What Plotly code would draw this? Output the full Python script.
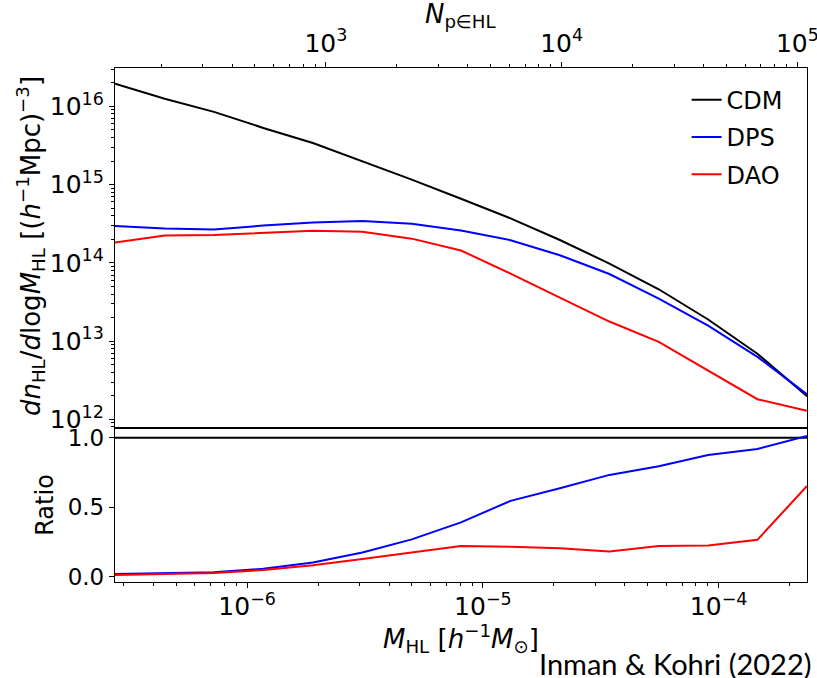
import plotly.graph_objects as go

# ---------------- data ----------------
mass = [2.75e-7, 4.47e-7, 7.23e-7, 1.17e-6, 1.90e-6, 3.08e-6, 4.99e-6, 8.07e-6,
        1.31e-5, 2.12e-5, 3.44e-5, 5.57e-5, 9.02e-5, 1.46e-4, 2.37e-4]
cdm = [1.95e16, 1.25e16, 8.5e15, 5.3e15, 3.4e15, 2.0e15, 1.16e15, 6.6e14,
       3.7e14, 1.96e14, 9.8e13, 4.6e13, 1.89e13, 6.9e12, 1.98e12]
dps = [2.96e14, 2.75e14, 2.66e14, 3.0e14, 3.27e14, 3.43e14, 3.17e14, 2.6e14,
       1.95e14, 1.25e14, 7.2e13, 3.5e13, 1.58e13, 6.3e12, 2.09e12]
dao = [1.82e14, 2.23e14, 2.27e14, 2.41e14, 2.58e14, 2.5e14, 2.04e14, 1.44e14,
       7.3e13, 3.6e13, 1.78e13, 9.8e12, 4.2e12, 1.81e12, 1.29e12]
ratio_cdm = [1.0, 1.0, 1.0, 1.0, 1.0, 1.0, 1.0, 1.0, 1.0, 1.0, 1.0, 1.0, 1.0, 1.0, 1.0]
ratio_dps = [0.017, 0.023, 0.031, 0.055, 0.10, 0.173, 0.267, 0.39,
             0.545, 0.636, 0.732, 0.794, 0.876, 0.919, 1.012]
ratio_dao = [0.010, 0.017, 0.025, 0.046, 0.08, 0.125, 0.175, 0.22,
             0.214, 0.204, 0.18, 0.219, 0.223, 0.264, 0.652]

# particles per halo-mass unit (top axis conversion, N = M * factor)
N_PER_MASS = 4.63e8

series_names = ["CDM", "DPS", "DAO"]
series_colors = ["black", "blue", "red"]

# tick labels
x_major = [1e-6, 1e-5, 1e-4]
x_major_text = ["10<sup>−6</sup>", "10<sup>−5</sup>", "10<sup>−4</sup>"]
y_major = [1e12, 1e13, 1e14, 1e15, 1e16]
y_major_text = ["10<sup>12</sup>", "10<sup>13</sup>", "10<sup>14</sup>", "10<sup>15</sup>", "10<sup>16</sup>"]
n_major = [1e3, 1e4, 1e5]
n_major_text = ["10<sup>3</sup>", "10<sup>4</sup>", "10<sup>5</sup>"]
r_major = [0.0, 0.5, 1.0]
r_major_text = ["0.0", "0.5", "1.0"]


def minors(lo_exp, hi_exp):
    return [m * 10.0 ** e for e in range(lo_exp, hi_exp + 1) for m in range(2, 10)]


FONT = "DejaVu Sans"
FS = 24        # plain text (legend, Ratio)
FS_TICK = 23   # ratio tick labels
FS_LOG = 25    # power-of-ten tick labels
FS_MATH = 26   # math axis titles

fig = go.Figure()

top_series = [cdm, dps, dao]
ratio_series = [ratio_cdm, ratio_dps, ratio_dao]
for name, col, ys in zip(series_names, series_colors, top_series):
    fig.add_trace(go.Scatter(x=mass, y=ys, mode="lines", name=name,
                             line=dict(color=col, width=2),
                             xaxis="x2", yaxis="y2", legendgroup=name))
for name, col, ys in zip(series_names, series_colors, ratio_series):
    fig.add_trace(go.Scatter(x=mass, y=ys, mode="lines", name=name,
                             line=dict(color=col, width=2),
                             xaxis="x", yaxis="y", showlegend=False,
                             legendgroup=name))
# invisible trace so that the top (particle-number) axis is drawn
fig.add_trace(go.Scatter(x=[m * N_PER_MASS for m in mass], y=cdm, mode="lines",
                         line=dict(color="black", width=1), opacity=0,
                         xaxis="x3", yaxis="y2", showlegend=False, hoverinfo="skip"))


def axis_common(size):
    return dict(showgrid=False, zeroline=False, showline=True, automargin=False,
                linecolor="black", linewidth=1.3, ticks="outside",
                ticklen=5, tickwidth=1, tickcolor="black",
                tickfont=dict(family=FONT, size=size, color="black"))


split = 0.2996
xr = [-6.5607, -3.6253]
nr = [2.1053, 5.0407]

fig.update_layout(
    width=817, height=678,
    margin=dict(l=115, r=10, t=68, b=96),
    paper_bgcolor="white", plot_bgcolor="white",
    font=dict(family=FONT, size=FS, color="black"),
    showlegend=True,
    legend=dict(x=0.826, y=0.981, xanchor="left", yanchor="top",
                bgcolor="rgba(0,0,0,0)", borderwidth=0,
                font=dict(family=FONT, size=FS), tracegroupgap=3),
    xaxis=dict(type="log", range=xr, anchor="y", domain=[0, 1], mirror=True,
               tickmode="array", tickvals=x_major, ticktext=x_major_text,
               ticklabelstandoff=-3,
               minor=dict(tickmode="array", tickvals=minors(-7, -4), ticks="outside",
                          ticklen=3, tickcolor="black", showgrid=False),
               **axis_common(FS_LOG)),
    yaxis=dict(range=[-0.04, 1.07], domain=[0, split], anchor="x", mirror=True,
               tickmode="array", tickvals=r_major, ticktext=r_major_text,
               **axis_common(FS_TICK)),
    xaxis2=dict(type="log", range=xr, anchor="y2", matches="x", mirror=True,
                showticklabels=False, showgrid=False, zeroline=False, showline=True,
                automargin=False, linecolor="black", linewidth=1.3, ticks=""),
    yaxis2=dict(type="log", range=[11.89, 16.49], domain=[split, 1], anchor="x2",
                mirror=True, tickmode="array", tickvals=y_major, ticktext=y_major_text,
                minor=dict(tickmode="array", tickvals=minors(11, 16), ticks="outside",
                           ticklen=3, tickcolor="black", showgrid=False),
                **axis_common(FS_LOG)),
    xaxis3=dict(type="log", range=nr, anchor="y2", overlaying="x2", side="top",
                tickmode="array", tickvals=n_major, ticktext=n_major_text,
                ticklabeloverflow="allow",
                minor=dict(tickmode="array", tickvals=minors(2, 5), ticks="outside",
                           ticklen=3, tickcolor="black", showgrid=False),
                **axis_common(FS_LOG)),
)

math_font = dict(family=FONT, size=FS_MATH, color="black")
fig.add_annotation(text="<i>N</i><sub>p∈HL</sub>", xref="paper", yref="paper",
                   x=0.5, y=1.0 + (68 - 15) / 514.6, xanchor="center", yanchor="middle",
                   showarrow=False, font=math_font)
fig.add_annotation(text="<i>M</i><sub>HL</sub> [<i>h</i><sup>−1</sup><i>M</i><sub>⊙</sub>]",
                   xref="paper", yref="paper", x=0.5, y=-(639 - 582.3) / 514.6,
                   xanchor="center", yanchor="middle", showarrow=False, font=math_font)
fig.add_annotation(text="<i>dn</i><sub>HL</sub>/<i>d</i>log<i>M</i><sub>HL</sub> [(<i>h</i><sup>−1</sup>Mpc)<sup>−3</sup>]",
                   xref="paper", yref="paper", x=-(115 - 30) / 692, y=(582.3 - 246) / 514.6,
                   xanchor="center", yanchor="middle", textangle=-90,
                   showarrow=False, font=math_font)
fig.add_annotation(text="Ratio", xref="paper", yref="paper",
                   x=-(115 - 45) / 692, y=(582.3 - 505) / 514.6,
                   xanchor="center", yanchor="middle", textangle=-90,
                   showarrow=False, font=dict(family=FONT, size=FS, color="black"))
fig.add_annotation(text="Inman &amp; Kohri (2022)", xref="paper", yref="paper",
                   x=(813 - 115) / 692, y=-(664 - 582.3) / 514.6,
                   xanchor="right", yanchor="middle", showarrow=False,
                   font=dict(family="Lato", size=29, color="black"))

fig.write_html("out.html")
